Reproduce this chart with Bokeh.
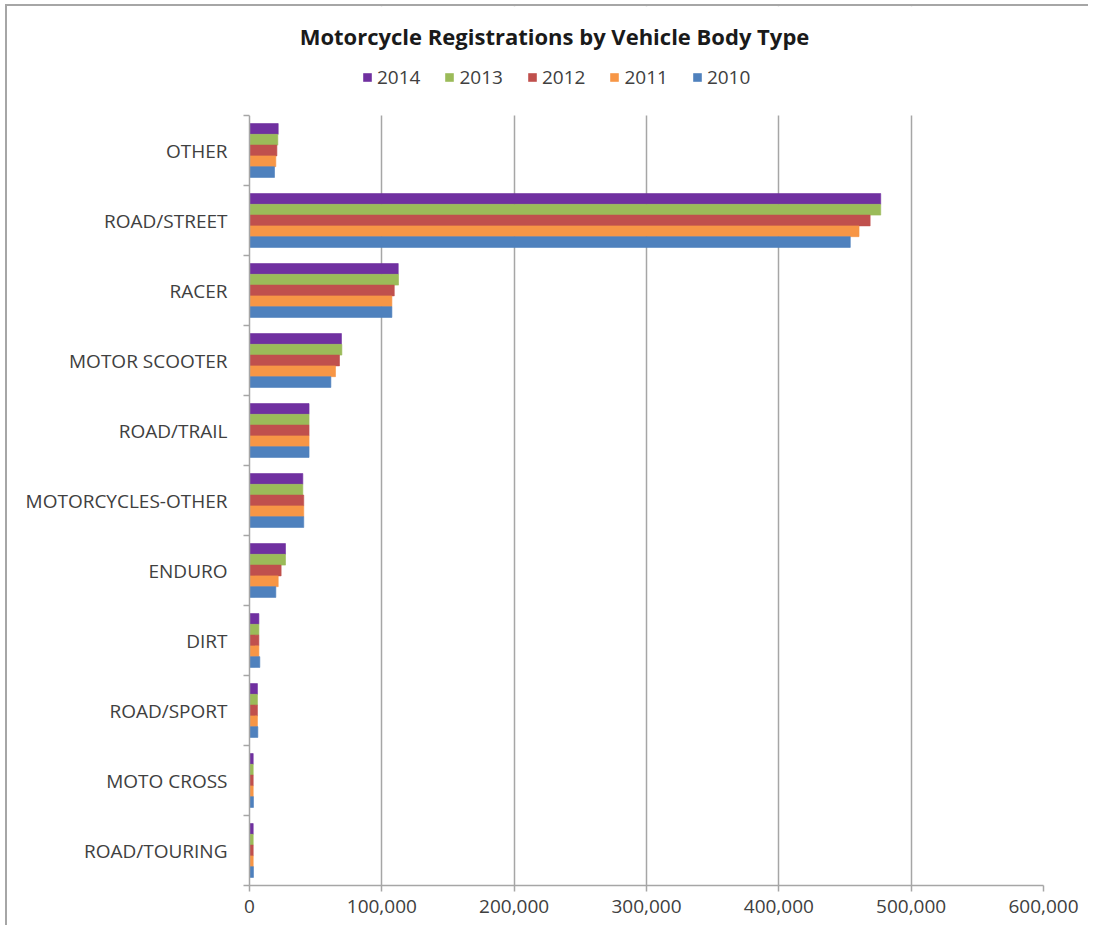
from bokeh.plotting import figure
from bokeh.models import (ColumnDataSource, Range1d, FixedTicker, NumeralTickFormatter,
                          Legend, LegendItem, Label, BoxAnnotation)
from bokeh.transform import dodge
from bokeh.embed import file_html
from bokeh.resources import INLINE

categories = ["OTHER", "ROAD/STREET", "RACER", "MOTOR SCOOTER", "ROAD/TRAIL",
              "MOTORCYCLES-OTHER", "ENDURO", "DIRT", "ROAD/SPORT", "MOTO CROSS",
              "ROAD/TOURING"]
years = ["2014", "2013", "2012", "2011", "2010"]
v2014 = [21700, 477000, 112400, 69500, 45000, 40300, 27200, 7100, 6000, 2800, 2800]
v2013 = [21400, 477000, 112600, 69800, 45000, 40300, 27200, 7100, 6000, 2800, 2800]
v2012 = [20700, 469000, 109400, 68000, 45000, 41000, 23900, 7100, 6000, 2800, 2800]
v2011 = [19900, 460600, 107600, 65000, 45000, 41000, 21700, 7100, 6000, 2800, 2800]
v2010 = [18900, 454000, 107600, 61500, 45000, 41000, 19900, 7800, 6300, 3000, 3000]
x_ticks = [0, 100000, 200000, 300000, 400000, 500000, 600000]
title_text = "Motorcycle Registrations by Vehicle Body Type"

colors = ["#7030A0", "#9BBB59", "#C0504D", "#F79646", "#4F81BD"]
series = [v2014, v2013, v2012, v2011, v2010]

n = len(categories)
centers = [n - i - 0.5 for i in range(n)]
data = {"y": centers, "cat": categories}
for yr, vals in zip(years, series):
    data["v" + yr] = vals
src = ColumnDataSource(data)

FONT = "Open Sans"
GRAY = "#A6A6A6"
TXT = "#404040"

# layout: 70 px per category, 109 px header region inside the frame
PX_PER_CAT = 70
HEADER = 109
frame_h = n * PX_PER_CAT + HEADER
y_top = n + HEADER / PX_PER_CAT

p = figure(frame_width=794, frame_height=frame_h, output_backend="svg",
           toolbar_location=None,
           x_range=Range1d(0, 600000), y_range=Range1d(0, y_top),
           min_border_left=242, min_border_right=45, min_border_top=0,
           min_border_bottom=40)
p.outline_line_color = None
p.margin = (4, 0, 0, 5)
p.styles = {"border-top": "2px solid #A6A6A6", "border-left": "2px solid #A6A6A6"}

bh = 0.154
offsets = [2 * bh, bh, 0, -bh, -2 * bh]
renderers = []
for yr, col, off in zip(years, colors, offsets):
    r = p.hbar(y=dodge("y", off), left=0, right="v" + yr, height=bh, source=src,
               fill_color=col, line_color=col, line_alpha=0.6, line_width=1)
    renderers.append((yr, r))

# x axis
p.xaxis.ticker = FixedTicker(ticks=x_ticks, minor_ticks=[])
p.xaxis.formatter = NumeralTickFormatter(format="0,0")
p.xaxis.axis_line_color = GRAY
p.xaxis.axis_line_width = 1.5
p.xaxis.major_tick_line_color = GRAY
p.xaxis.major_tick_line_width = 1.5
p.xaxis.major_tick_out = 6
p.xaxis.major_tick_in = 0
p.xaxis.major_label_text_font = FONT
p.xaxis.major_label_text_font_size = "19px"
p.xaxis.major_label_text_color = TXT
p.xaxis.major_label_standoff = 8

# y axis (ticks between categories, labels at category centres)
p.yaxis.bounds = (0, n)
p.yaxis.ticker = FixedTicker(ticks=centers, minor_ticks=list(range(n + 1)))
p.yaxis.major_label_overrides = {c: cat for c, cat in zip(centers, categories)}
p.yaxis.axis_line_color = GRAY
p.yaxis.axis_line_width = 1.5
p.yaxis.major_tick_line_color = None
p.yaxis.major_tick_out = 0
p.yaxis.major_tick_in = 0
p.yaxis.minor_tick_line_color = GRAY
p.yaxis.minor_tick_line_width = 1.5
p.yaxis.minor_tick_out = 6
p.yaxis.minor_tick_in = 0
p.yaxis.major_label_text_font = FONT
p.yaxis.major_label_text_font_size = "19px"
p.yaxis.major_label_text_color = TXT
p.yaxis.major_label_standoff = 16

p.xgrid.ticker = FixedTicker(ticks=x_ticks)
p.xgrid.grid_line_color = GRAY
p.xgrid.grid_line_width = 1.5
p.ygrid.grid_line_color = None

# blank header area above the plot (hides gridlines there)
p.add_layout(BoxAnnotation(bottom=n, fill_color="white", fill_alpha=1.0,
                           line_color=None))

title = Label(x=305, y=frame_h - 29, x_units="screen", y_units="screen",
              text=title_text, text_align="center", text_baseline="middle",
              text_font=FONT, text_font_size="22px", text_font_style="bold",
              text_color="#1a1a1a")
p.add_layout(title)

legend = Legend(items=[LegendItem(label=yr, renderers=[r]) for yr, r in renderers],
                orientation="horizontal", location=(113, frame_h - 84),
                label_text_font=FONT, label_text_font_size="19px",
                label_text_color=TXT, glyph_width=10, glyph_height=10,
                label_standoff=5, spacing=24, padding=4, margin=0,
                border_line_color=None, background_fill_alpha=0)
p.add_layout(legend, "center")

open("out.html", "w").write(file_html(p, INLINE))
